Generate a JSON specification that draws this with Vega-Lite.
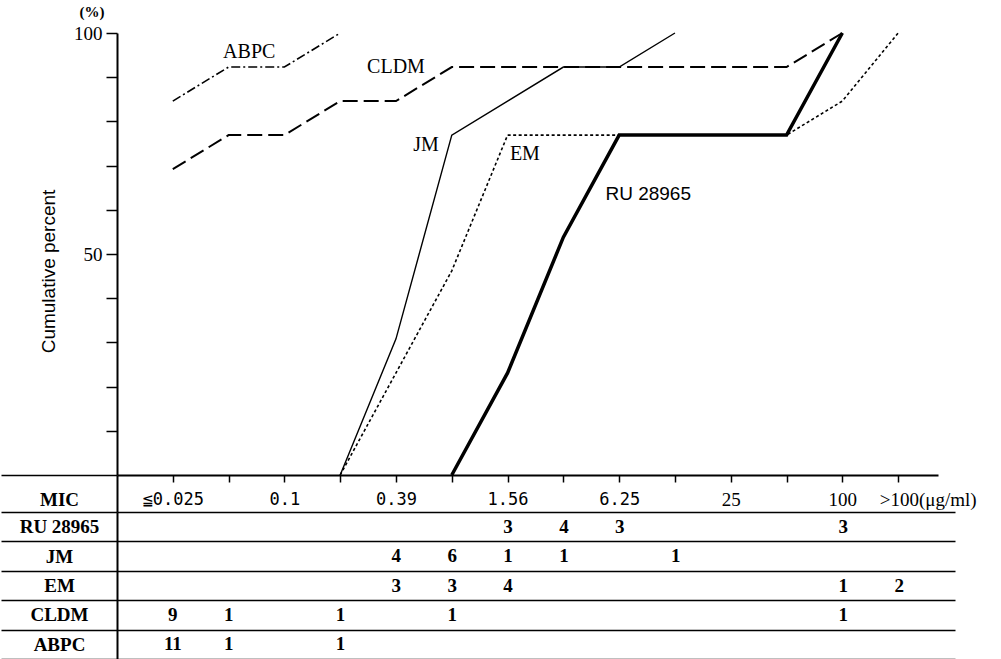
{
  "$schema": "https://vega.github.io/schema/vega-lite/v6.json",
  "background": "white",
  "padding": {"left": 0, "top": 5, "right": 5, "bottom": 0},
  "bounds": "flush",
  "spacing": 37,
  "resolve": {"scale": {"x": "independent", "y": "independent"}},
  "config": {
    "view": {"stroke": null},
    "axis": {"domainColor": "black", "tickColor": "black", "labelColor": "black", "titleColor": "black", "grid": false}
  },
  "datasets": {
    "curves": [
      {"drug": "ABPC", "idx": 0, "pct": 84.6}, {"drug": "ABPC", "idx": 1, "pct": 92.3}, {"drug": "ABPC", "idx": 2, "pct": 92.3}, {"drug": "ABPC", "idx": 3, "pct": 100},
      {"drug": "CLDM", "idx": 0, "pct": 69.2}, {"drug": "CLDM", "idx": 1, "pct": 76.9}, {"drug": "CLDM", "idx": 2, "pct": 76.9}, {"drug": "CLDM", "idx": 3, "pct": 84.6}, {"drug": "CLDM", "idx": 4, "pct": 84.6}, {"drug": "CLDM", "idx": 5, "pct": 92.3}, {"drug": "CLDM", "idx": 11, "pct": 92.3}, {"drug": "CLDM", "idx": 12, "pct": 100},
      {"drug": "JM", "idx": 3, "pct": 0}, {"drug": "JM", "idx": 4, "pct": 30.8}, {"drug": "JM", "idx": 5, "pct": 76.9}, {"drug": "JM", "idx": 6, "pct": 84.6}, {"drug": "JM", "idx": 7, "pct": 92.3}, {"drug": "JM", "idx": 8, "pct": 92.3}, {"drug": "JM", "idx": 9, "pct": 100},
      {"drug": "EM", "idx": 3, "pct": 0}, {"drug": "EM", "idx": 4, "pct": 23.1}, {"drug": "EM", "idx": 5, "pct": 46.2}, {"drug": "EM", "idx": 6, "pct": 76.9}, {"drug": "EM", "idx": 11, "pct": 76.9}, {"drug": "EM", "idx": 12, "pct": 84.6}, {"drug": "EM", "idx": 13, "pct": 100},
      {"drug": "RU 28965", "idx": 5, "pct": 0}, {"drug": "RU 28965", "idx": 6, "pct": 23.1}, {"drug": "RU 28965", "idx": 7, "pct": 53.8}, {"drug": "RU 28965", "idx": 8, "pct": 76.9}, {"drug": "RU 28965", "idx": 11, "pct": 76.9}, {"drug": "RU 28965", "idx": 12, "pct": 100}
    ],
    "names": [
      {"drug": "ABPC", "idx": 1.37, "pct": 95.7},
      {"drug": "CLDM", "idx": 4.0, "pct": 92.3},
      {"drug": "JM", "idx": 4.54, "pct": 74.7},
      {"drug": "EM", "idx": 6.31, "pct": 72.6},
      {"drug": "RU 28965", "idx": 8.52, "pct": 63.6}
    ],
    "counts": [
      {"drug": "RU 28965", "idx": 6, "n": 3}, {"drug": "RU 28965", "idx": 7, "n": 4}, {"drug": "RU 28965", "idx": 8, "n": 3}, {"drug": "RU 28965", "idx": 12, "n": 3},
      {"drug": "JM", "idx": 4, "n": 4}, {"drug": "JM", "idx": 5, "n": 6}, {"drug": "JM", "idx": 6, "n": 1}, {"drug": "JM", "idx": 7, "n": 1}, {"drug": "JM", "idx": 9, "n": 1},
      {"drug": "EM", "idx": 4, "n": 3}, {"drug": "EM", "idx": 5, "n": 3}, {"drug": "EM", "idx": 6, "n": 4}, {"drug": "EM", "idx": 12, "n": 1}, {"drug": "EM", "idx": 13, "n": 2},
      {"drug": "CLDM", "idx": 0, "n": 9}, {"drug": "CLDM", "idx": 1, "n": 1}, {"drug": "CLDM", "idx": 3, "n": 1}, {"drug": "CLDM", "idx": 5, "n": 1}, {"drug": "CLDM", "idx": 12, "n": 1},
      {"drug": "ABPC", "idx": 0, "n": 11}, {"drug": "ABPC", "idx": 1, "n": 1}, {"drug": "ABPC", "idx": 3, "n": 1}
    ]
  },
  "vconcat": [
    {
      "width": 821,
      "height": 442,
      "title": {"text": "(%)", "anchor": "start", "frame": "group", "orient": "top", "offset": 4, "dx": -25, "align": "center", "font": "Liberation Serif", "fontSize": 15, "fontWeight": "bold", "color": "black"},
      "encoding": {
        "x": {
          "field": "idx", "type": "quantitative",
          "scale": {"domain": [-1, 13.714], "nice": false, "zero": false},
          "axis": {
            "values": [-1, 0, 1, 2, 3, 4, 5, 6, 7, 8, 9, 10, 11, 12, 13],
            "labelExpr": "['≦0.025','','0.1','','0.39','','1.56','','6.25','','25','','100','>100(μg/ml)'][datum.value] || ''",
            "domainWidth": 2,
            "tickSize": {"condition": {"test": "datum.value < 0", "value": 37}, "value": 7},
            "tickWidth": {"condition": {"test": "datum.value < 0", "value": 2}, "value": 1.5},
            "labelPadding": 17,
            "labelBaseline": "middle",
            "labelFont": {"condition": {"test": "datum.value >= 9", "value": "Liberation Serif"}, "value": "DejaVu Sans Mono"},
            "labelFontSize": {"condition": {"test": "datum.value >= 9", "value": 19}, "value": 17},
            "labelAlign": {"condition": {"test": "datum.value == 13", "value": "left"}, "value": "center"},
            "labelOffset": {"condition": {"test": "datum.value == 13", "value": -19}, "value": 0},
            "labelOverlap": false,
            "labelFlush": false,
            "title": "MIC",
            "titleX": -58,
            "titleY": 24,
            "titleAngle": 0,
            "titleAlign": "center",
            "titleBaseline": "middle",
            "titleFont": "Liberation Serif",
            "titleFontWeight": "bold",
            "titleFontSize": 19
          }
        },
        "y": {
          "field": "pct", "type": "quantitative",
          "scale": {"domain": [0, 100], "nice": false},
          "axis": {
            "values": [0, 10, 20, 30, 40, 50, 60, 70, 80, 90, 100],
            "labelExpr": "datum.value == 100 || datum.value == 50 ? datum.label : ''",
            "domainWidth": 2,
            "tickSize": {"condition": {"test": "datum.value == 0", "value": 116}, "value": 11},
            "tickWidth": 1.5,
            "labelPadding": 4,
            "labelFont": "Liberation Serif",
            "labelFontSize": 19,
            "title": "Cumulative percent",
            "titleX": -69,
            "titleY": 238,
            "titleAngle": -90,
            "titleAlign": "center",
            "titleBaseline": "middle",
            "titleFont": "Liberation Sans",
            "titleFontWeight": "normal",
            "titleFontSize": 19
          }
        }
      },
      "layer": [
        {"data": {"name": "curves"}, "transform": [{"filter": "datum.drug == 'RU 28965'"}], "mark": {"type": "line", "color": "black", "strokeWidth": 3.5}, "encoding": {"order": {"field": "idx"}}},
        {"data": {"name": "curves"}, "transform": [{"filter": "datum.drug == 'JM'"}], "mark": {"type": "line", "color": "black", "strokeWidth": 1.4}, "encoding": {"order": {"field": "idx"}}},
        {"data": {"name": "curves"}, "transform": [{"filter": "datum.drug == 'CLDM'"}], "mark": {"type": "line", "color": "black", "strokeWidth": 2, "strokeDash": [15, 6]}, "encoding": {"order": {"field": "idx"}}},
        {"data": {"name": "curves"}, "transform": [{"filter": "datum.drug == 'ABPC'"}], "mark": {"type": "line", "color": "black", "strokeWidth": 1.6, "strokeDash": [9, 3, 2, 3]}, "encoding": {"order": {"field": "idx"}}},
        {"data": {"name": "curves"}, "transform": [{"filter": "datum.drug == 'EM'"}], "mark": {"type": "line", "color": "black", "strokeWidth": 1.6, "strokeDash": [3, 2.5]}, "encoding": {"order": {"field": "idx"}}},
        {"data": {"name": "names"}, "transform": [{"filter": "datum.drug != 'RU 28965'"}], "mark": {"type": "text", "color": "black", "font": "Liberation Serif", "fontSize": 20, "align": "center", "baseline": "middle"}, "encoding": {"text": {"field": "drug"}}},
        {"data": {"name": "names"}, "transform": [{"filter": "datum.drug == 'RU 28965'"}], "mark": {"type": "text", "color": "black", "font": "Liberation Sans", "fontSize": 19, "align": "center", "baseline": "middle"}, "encoding": {"text": {"field": "drug"}}}
      ]
    },
    {
      "width": 838,
      "height": 147,
      "data": {"name": "counts"},
      "mark": {"type": "text", "color": "black", "font": "Liberation Serif", "fontWeight": "bold", "fontSize": 19, "baseline": "middle"},
      "encoding": {
        "x": {"field": "idx", "type": "quantitative", "scale": {"domain": [-1, 14], "nice": false, "zero": false}, "axis": null},
        "y": {
          "field": "drug", "type": "nominal",
          "scale": {"type": "band", "domain": ["RU 28965", "JM", "EM", "CLDM", "ABPC"], "paddingInner": 0, "paddingOuter": 0},
          "axis": {
            "title": null,
            "tickBand": "extent",
            "tickSize": 116,
            "tickWidth": 1.5,
            "grid": true,
            "gridColor": "black",
            "gridWidth": 1.5,
            "gridOpacity": 1,
            "domainWidth": 2,
            "labelAlign": "center",
            "labelBaseline": "middle",
            "labelPadding": -58,
            "labelFont": "Liberation Serif",
            "labelFontWeight": "bold",
            "labelFontSize": 19
          }
        },
        "text": {"field": "n", "type": "quantitative"}
      }
    }
  ]
}
